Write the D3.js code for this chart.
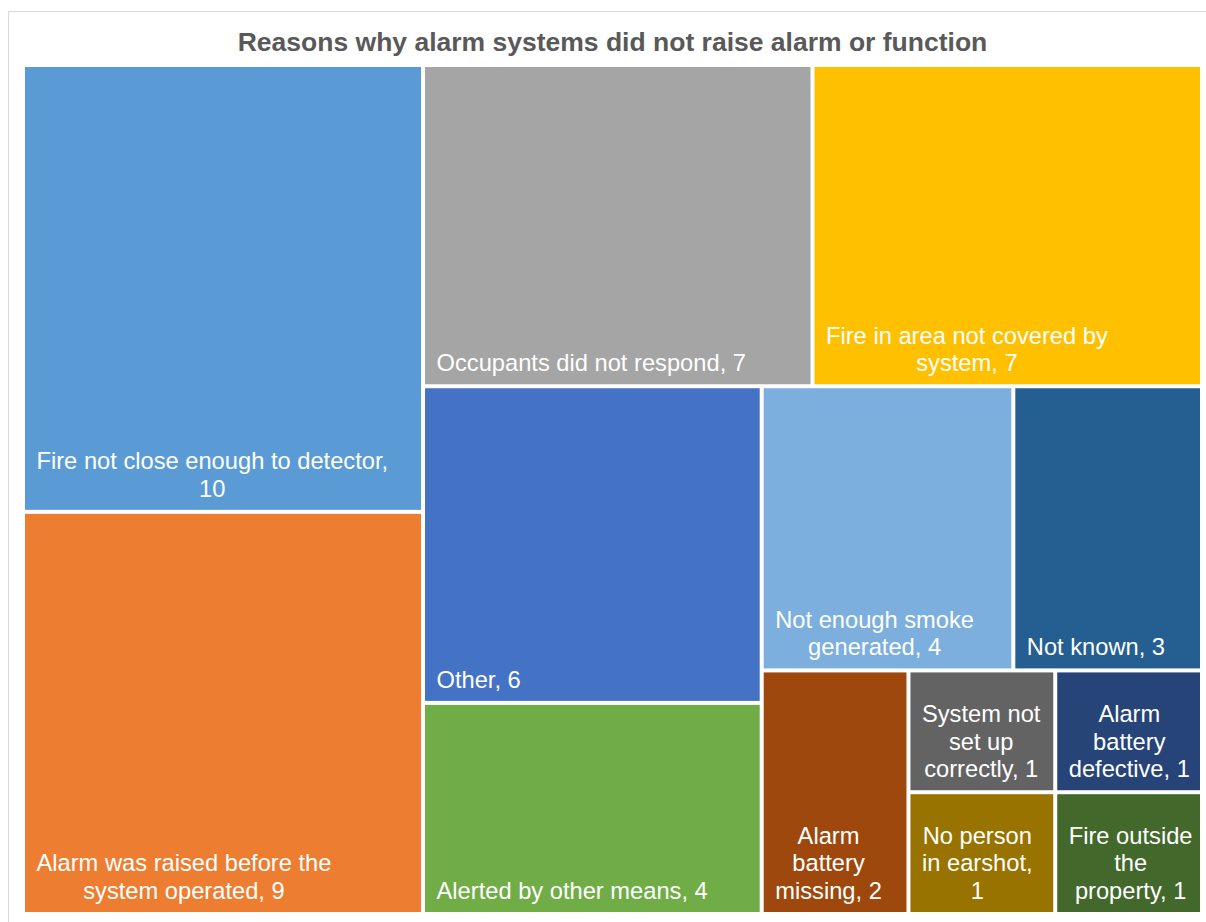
<!DOCTYPE html>
<html>
<head>
<meta charset="utf-8">
<script src="https://cdn.jsdelivr.net/npm/d3@7"></script>
<style>
  html, body { margin: 0; padding: 0; background: #ffffff; }
  svg { display: block; }
  text { font-family: "Liberation Sans", Arial, sans-serif; }
</style>
</head>
<body>
<svg id="chart" width="1206" height="922"></svg>
<script>
// Reasons given, in the order they were recorded
const categories = [
  "Fire not close enough to detector",
  "Alarm was raised before the system operated",
  "Occupants did not respond",
  "Fire in area not covered by system",
  "Other",
  "Alerted by other means",
  "Not enough smoke generated",
  "Not known",
  "Alarm battery missing",
  "System not set up correctly",
  "No person in earshot",
  "Alarm battery defective",
  "Fire outside the property"
];
const counts = [10, 9, 7, 7, 6, 4, 4, 3, 2, 1, 1, 1, 1];
const colors = [
  "#5B9BD5", "#ED7D31", "#A5A5A5", "#FFC000", "#4472C4", "#70AD47",
  "#7CAFDD", "#255E91", "#9E480E", "#636363", "#997300", "#264478", "#43682B"
];
// tile labels: "|" marks a line break, {v} is replaced by the count
const labelTemplates = [
  "Fire not close enough to detector,|{v}",
  "Alarm was raised before the|system operated, {v}",
  "Occupants did not respond, {v}",
  "Fire in area not covered by|system, {v}",
  "Other, {v}",
  "Alerted by other means, {v}",
  "Not enough smoke|generated, {v}",
  "Not known, {v}",
  "Alarm|battery|missing, {v}",
  "System not|set up|correctly, {v}",
  "No person|in earshot,|{v}",
  "Alarm|battery|defective, {v}",
  "Fire outside|the|property, {v}"
];
const title = "Reasons why alarm systems did not raise alarm or function";

const plot = { x0: 23, y0: 65, x1: 1202, y1: 914 };
const gap = 2;            // half of the white gutter between tiles
const labelSize = 23.7;
const lineHeight = 27.7;

const svg = d3.select("#chart");

// chart frame
svg.append("rect")
  .attr("x", 8.5).attr("y", 11.5)
  .attr("width", 1210).attr("height", 930)
  .attr("fill", "#ffffff")
  .attr("stroke", "#d9d9d9")
  .attr("stroke-width", 1);

svg.append("text")
  .attr("x", (plot.x0 + plot.x1) / 2)
  .attr("y", 51)
  .attr("text-anchor", "middle")
  .attr("font-size", 26.5)
  .attr("font-weight", "bold")
  .attr("fill", "#595959")
  .text(title);

const rows = categories.map((name, i) => ({
  name,
  value: counts[i],
  color: colors[i],
  label: labelTemplates[i]
}));

const root = d3.hierarchy({ children: rows })
  .sum(d => d.value || 0)
  .sort((a, b) => b.value - a.value);

d3.treemap()
  .tile(d3.treemapSquarify.ratio(1))
  .size([plot.x1 - plot.x0, plot.y1 - plot.y0])
  .round(false)(root);

const leaves = root.leaves();

const cell = svg.append("g")
  .attr("transform", `translate(${plot.x0},${plot.y0})`)
  .selectAll("g")
  .data(leaves)
  .join("g");

cell.append("rect")
  .attr("x", d => d.x0 + gap)
  .attr("y", d => d.y0 + gap)
  .attr("width", d => d.x1 - d.x0 - 2 * gap)
  .attr("height", d => d.y1 - d.y0 - 2 * gap)
  .attr("fill", d => d.data.color);

const measurer = svg.append("text")
  .attr("font-size", labelSize)
  .attr("visibility", "hidden");
function textWidth(s) {
  measurer.text(s);
  return measurer.node().getComputedTextLength();
}

// label block sits at the bottom-left of each tile, lines centred in the block
cell.each(function (d) {
  const g = d3.select(this);
  const innerX = d.x0 + gap;
  const innerBottom = d.y1 - gap;
  const lines = d.data.label.replace("{v}", d.data.value).split("|");
  const blockW = d3.max(lines, textWidth);
  const cx = innerX + 11.5 + blockW / 2;
  const lastBaseline = innerBottom - 13;
  const t = g.append("text")
    .attr("font-size", labelSize)
    .attr("fill", "#ffffff")
    .attr("text-anchor", "middle");
  lines.forEach((ln, i) => {
    t.append("tspan")
      .attr("x", cx)
      .attr("y", lastBaseline - (lines.length - 1 - i) * lineHeight)
      .text(ln);
  });
});

measurer.remove();
</script>
</body>
</html>
